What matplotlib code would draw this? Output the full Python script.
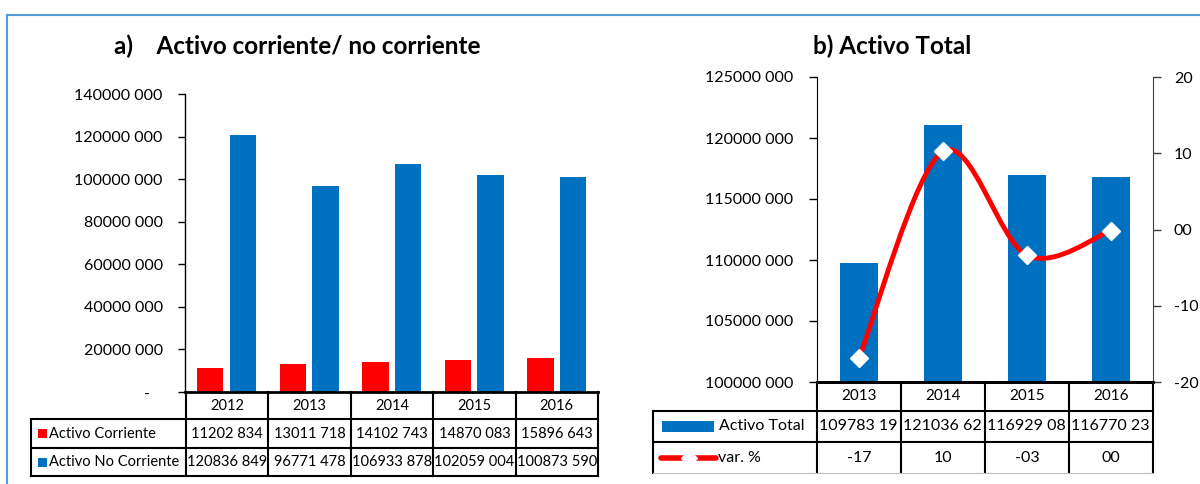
import matplotlib
matplotlib.use('Agg')
import matplotlib.pyplot as plt
import numpy as np
from matplotlib.path import Path
from matplotlib.patches import PathPatch, Rectangle
from matplotlib.lines import Line2D

plt.rcParams['font.family'] = ['Lato', 'DejaVu Sans']

# data
years_a = ['2012', '2013', '2014', '2015', '2016']
corriente = [11202834, 13011718, 14102743, 14870083, 15896643]
no_corriente = [120836849, 96771478, 106933878, 102059004, 100873590]

years_b = ['2013', '2014', '2015', '2016']
total = [109783196, 121036621, 116929087, 116770233]
total_labels = ['109783 19', '121036 62', '116929 08', '116770 23']  # clipped in the table
var_pct = [-16.86, 10.25, -3.39, -0.14]

RED = '#FF0000'
BLUE = '#0070C0'
W, H = 1200, 484


def fx(x):
    return x / W


def fy(y):
    return 1 - y / H


def fmt_num(v):
    v = int(round(v))
    if v == 0:
        return '-   '
    return f'{v // 1000} {v % 1000:03d}'


def fmt_pct(v):
    r = int(round(v))
    return ('-' if r < 0 else '') + f'{abs(r):02d}'


fig = plt.figure(figsize=(12, 4.84), dpi=100)


def hline(x0, x1, y, lw=1.5, color='black'):
    fig.add_artist(Line2D([fx(x0), fx(x1)], [fy(y), fy(y)], transform=fig.transFigure,
                          lw=lw, color=color, solid_capstyle='projecting'))


def vline(x, y0, y1, lw=1.5, color='black'):
    fig.add_artist(Line2D([fx(x), fx(x)], [fy(y0), fy(y1)], transform=fig.transFigure,
                          lw=lw, color=color, solid_capstyle='projecting'))


# frame
hline(7, 1200, 14.5, lw=1.5, color='#5B9BD5')
vline(7, 14.5, 484, lw=1.5, color='#5B9BD5')

# ---------- a) ----------
ax1 = fig.add_axes([fx(185), fy(392), (598 - 185) / W, (392 - 94) / H])
x = np.arange(len(years_a))
ax1.bar(x - 0.195, corriente, 0.32, color=RED)
ax1.bar(x + 0.2, no_corriente, 0.32, color=BLUE)
ax1.set_xlim(-0.5, len(years_a) - 0.5)
ax1.set_ylim(0, 140e6)
yt = np.arange(0, 140e6 + 1, 20e6)
ax1.set_yticks(yt)
ax1.set_yticklabels([fmt_num(v) for v in yt])
ax1.set_xticks([])
for s in ['top', 'right']:
    ax1.spines[s].set_visible(False)
ax1.spines['bottom'].set_linewidth(2)
ax1.spines['left'].set_linewidth(1)
ax1.tick_params(axis='y', direction='out', length=5, width=1, pad=11, labelsize=11.5)
fig.text(fx(297), fy(46), 'a)    Activo corriente/ no corriente', ha='center', va='center',
         fontsize=17.5, fontweight='bold')

# table a
cols_a = [186 + 82.4 * i for i in range(6)]
for cx in cols_a:
    vline(cx, 392, 476)
vline(31, 419, 476)
for yy in [419, 448, 476]:
    hline(31, 598, yy)
for i, yr in enumerate(years_a):
    cx = (cols_a[i] + cols_a[i + 1]) / 2
    fig.text(fx(cx), fy(406), yr, ha='center', va='center', fontsize=10.5)
    fig.text(fx(cx), fy(433.5), fmt_num(corriente[i]), ha='center', va='center', fontsize=10.5)
    fig.text(fx(cx), fy(462), fmt_num(no_corriente[i]), ha='center', va='center', fontsize=10.5)
for yy, col, name in [(433.5, RED, 'Activo Corriente'), (462, BLUE, 'Activo No Corriente')]:
    fig.add_artist(Rectangle((fx(38), fy(yy + 4.5)), 9 / W, 9 / H, transform=fig.transFigure,
                             color=col, lw=0))
    fig.text(fx(49), fy(yy), name, ha='left', va='center', fontsize=10.5)

# ---------- b) ----------
ax2 = fig.add_axes([fx(817), fy(382), (1153 - 817) / W, (382 - 77) / H])
xb = np.arange(len(years_b))
ax2.bar(xb, total, 0.46, color=BLUE)
ax2.set_xlim(-0.5, len(years_b) - 0.5)
ax2.set_ylim(100e6, 125e6)
yt2 = np.arange(100e6, 125e6 + 1, 5e6)
ax2.set_yticks(yt2)
ax2.set_yticklabels([fmt_num(v) for v in yt2])
ax2.set_xticks([])
ax2.tick_params(axis='y', direction='out', length=6, width=1, pad=11, labelsize=11.5)

ax3 = ax2.twinx()
ax3.set_ylim(-20, 20)
yt3 = [-20, -10, 0, 10, 20]
ax3.set_yticks(yt3)
ax3.set_yticklabels([fmt_pct(v) for v in yt3])
ax3.tick_params(axis='y', direction='out', length=6, width=1, pad=9, labelsize=11.5,
                color='#404040')
for a in (ax2, ax3):
    a.spines['top'].set_visible(False)
    a.spines['bottom'].set_linewidth(2)
ax2.spines['right'].set_visible(False)
ax3.spines['left'].set_visible(False)
ax3.spines['right'].set_color('#404040')

# smoothed line (Catmull-Rom as Bezier segments through the points)
pts = np.column_stack([xb, var_pct]).astype(float)
ext = np.vstack([pts[0], pts, pts[-1]])
verts = [tuple(pts[0])]
codes = [Path.MOVETO]
for i in range(len(pts) - 1):
    p0, p1, p2, p3 = ext[i], ext[i + 1], ext[i + 2], ext[i + 3]
    verts += [tuple(p1 + (p2 - p0) / 6), tuple(p2 - (p3 - p1) / 6), tuple(p2)]
    codes += [Path.CURVE4] * 3
ax3.add_patch(PathPatch(Path(verts, codes), fill=False, edgecolor=RED, lw=3.5,
                        capstyle='round', zorder=3))
ax3.plot(xb, var_pct, linestyle='none', marker='D', ms=9, mfc='white', mec='white',
         zorder=4, clip_on=False)

fig.text(fx(892), fy(46), 'b) Activo Total', ha='center', va='center',
         fontsize=17.5, fontweight='bold')

# table b
cols_b = [817 + 84 * i for i in range(5)]
for cx in cols_b:
    vline(cx, 382, 473)
vline(653, 411, 473)
for yy in [411, 442]:
    hline(653, 1153, yy)
hline(653, 1153, 473, lw=0.8, color='#BFBFBF')
for i, yr in enumerate(years_b):
    cx = (cols_b[i] + cols_b[i + 1]) / 2
    fig.text(fx(cx), fy(396.5), yr, ha='center', va='center', fontsize=11)
    fig.text(fx(cols_b[i] + 2), fy(426.5), total_labels[i], ha='left', va='center',
             fontsize=11.5)
    fig.text(fx(cx), fy(457.5), fmt_pct(var_pct[i]), ha='center', va='center', fontsize=11.5)

fig.add_artist(Rectangle((fx(662), fy(432)), 52 / W, 11 / H, transform=fig.transFigure,
                         color=BLUE, lw=0))
fig.text(fx(719), fy(426.5), 'Activo Total', ha='left', va='center', fontsize=11.5)
fig.add_artist(Line2D([fx(661), fx(716)], [fy(457.5), fy(457.5)], transform=fig.transFigure,
                      lw=4, color=RED, solid_capstyle='round'))
fig.add_artist(Line2D([fx(688.5)], [fy(457.5)], transform=fig.transFigure, marker='D',
                      ms=8, mfc='white', mec='white', linestyle='none'))
fig.text(fx(718), fy(457.5), 'var. %', ha='left', va='center', fontsize=11.5)

fig.savefig('out.png', dpi=100, facecolor='white')
